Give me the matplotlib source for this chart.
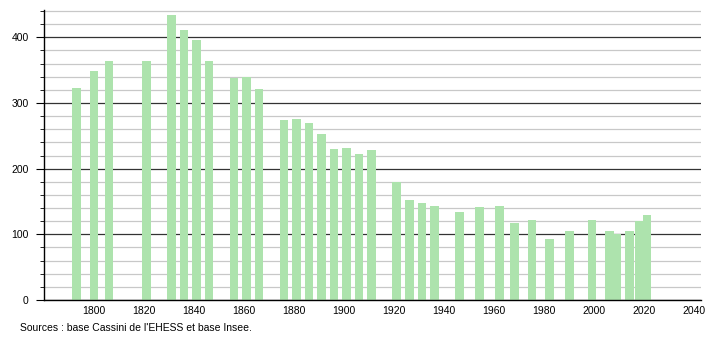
import matplotlib
matplotlib.use("Agg")
import matplotlib.pyplot as plt
from matplotlib.ticker import MultipleLocator

years = [1793, 1800, 1806, 1821, 1831, 1836, 1841, 1846, 1856, 1861, 1866,
         1876, 1881, 1886, 1891, 1896, 1901, 1906, 1911, 1921, 1926, 1931,
         1936, 1946, 1954, 1962, 1968, 1975, 1982, 1990, 1999, 2006, 2009,
         2014, 2018, 2021]
population = [323, 348, 364, 364, 434, 411, 396, 364, 338, 340, 322,
              274, 276, 269, 253, 230, 231, 222, 228, 179, 153, 148,
              143, 134, 141, 143, 117, 122, 93, 105, 122, 105, 101,
              105, 120, 130]
x_ticks = [1800, 1820, 1840, 1860, 1880, 1900, 1920, 1940, 1960, 1980, 2000, 2020, 2040]
source_text = "Sources : base Cassini de l'EHESS et base Insee."

plt.rcParams['font.family'] = ['Liberation Sans', 'DejaVu Sans']

fig = plt.figure(figsize=(7.1, 3.4), dpi=100)
ax = fig.add_axes([44/710, 40/340, (700.7-44)/710, 290/340])

ax.bar(years, population, width=3.4, color='#ade3ad', zorder=2, linewidth=0)

ax.set_xlim(1780, 2042.5)
ax.set_ylim(0, 441.6)
ax.set_xticks(x_ticks)
ax.set_xticklabels([str(t) for t in x_ticks])
ax.yaxis.set_major_locator(MultipleLocator(100))
ax.yaxis.set_minor_locator(MultipleLocator(20))

ax.grid(axis='y', which='minor', color='#c8c8c8', linewidth=0.9, zorder=1)
ax.grid(axis='y', which='major', color='#333333', linewidth=0.9, zorder=1)
ax.set_axisbelow(True)

for s in ['top', 'right']:
    ax.spines[s].set_visible(False)
ax.spines['left'].set_color('black')
ax.spines['bottom'].set_color('black')
ax.spines['left'].set_linewidth(1.0)
ax.spines['bottom'].set_linewidth(1.0)

ax.tick_params(axis='x', length=0, labelsize=7.5, pad=4)
ax.tick_params(axis='y', which='major', length=6, labelsize=7.5, pad=5)
ax.tick_params(axis='y', which='minor', length=3)

fig.text(20/710, 1-328/340, source_text, fontsize=7.5, va='center', ha='left')

fig.savefig("out.png", dpi=100)
